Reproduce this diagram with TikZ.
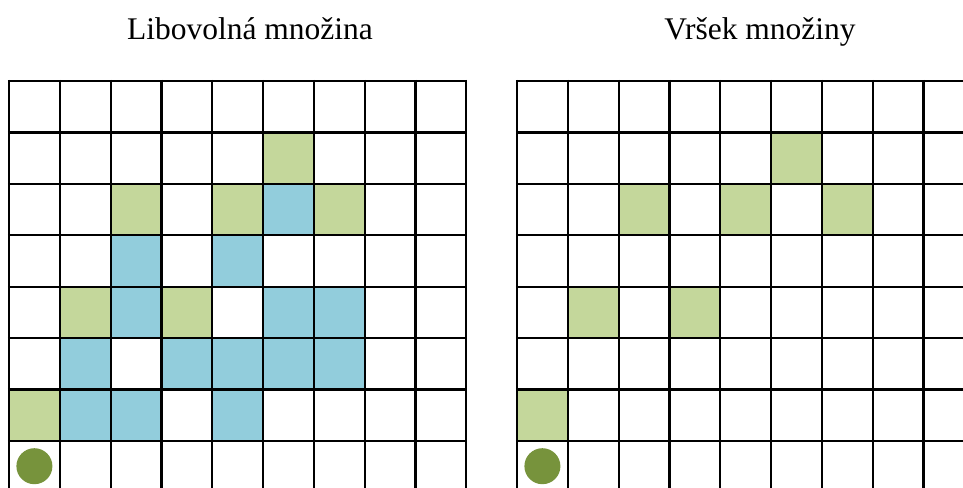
\documentclass[tikz,border=0pt]{standalone}
\usepackage{fontspec}
\setmainfont{Liberation Serif}
\definecolor{cgreen}{HTML}{C4D79B}
\definecolor{cblue}{HTML}{92CDDC}
\definecolor{cdot}{HTML}{77933C}
\tikzset{
  gridline/.style={line width=2.2pt, black},
  title/.style={anchor=base, font=\fontsize{31.5}{36}\selectfont, inner sep=0pt},
  gcell/.style={fill=cgreen},
  bcell/.style={fill=cblue},
  dot/.style={fill=cdot}
}
\newcommand{\cellA}[4]{% #1 x0, #2 col, #3 row, #4 style
  \path[#4] ({#1+50.8*#2},{81+51.4*#3}) rectangle ({#1+50.8*(#2+1)},{81+51.4*(#3+1)});}
\begin{document}
\begin{tikzpicture}[x=1pt,y=-1pt]
\useasboundingbox (0,0) rectangle (963,487);
\clip (0,0) rectangle (963,487);
\node[title] (t1) at (250,39.5) {Libovolná množina};
\node[title] (t2) at (760,39.5) {Vršek množiny};
% left grid fills
\foreach \c/\r in {5/1,2/2,4/2,6/2,1/4,3/4,0/6} {\cellA{9}{\c}{\r}{gcell}}
\foreach \c/\r in {5/2,2/3,4/3,2/4,5/4,6/4,1/5,3/5,4/5,5/5,6/5,1/6,2/6,4/6} {\cellA{9}{\c}{\r}{bcell}}
% right grid fills
\foreach \c/\r in {5/1,2/2,4/2,6/2,1/4,3/4,0/6} {\cellA{517}{\c}{\r}{gcell}}
% dots
\fill[dot] ({9+25.4},{81+51.4*7+25.4}) circle (18);
\fill[dot] ({517+25.4},{81+51.4*7+25.4}) circle (18);
% grids
\foreach \gx in {9,517} {
  \foreach \i in {0,...,9} {\draw[gridline] ({\gx+50.8*\i},{81-1.1}) -- ({\gx+50.8*\i},500);}
  \foreach \j in {0,...,8} {\draw[gridline] ({\gx-1.1},{81+51.4*\j}) -- ({\gx+50.8*9+1.1},{81+51.4*\j});}
}
\end{tikzpicture}
\end{document}
